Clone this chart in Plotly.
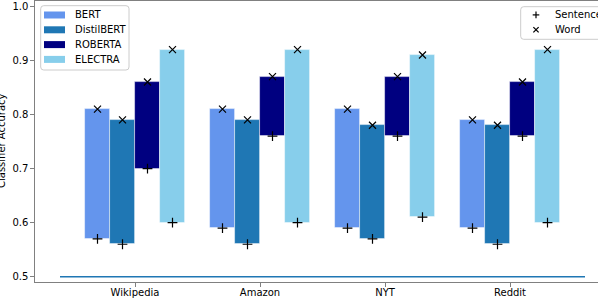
import plotly.graph_objects as go

datasets = ["Wikipedia", "Amazon", "NYT", "Reddit"]
models = ["BERT", "DistilBERT", "ROBERTA", "ELECTRA"]
colors = ["#6495ED", "#1f77b4", "#000080", "#87CEEB"]
level_names = ["Sentence", "Word"]

sentence_acc = {
    "BERT":       [0.57, 0.59, 0.59, 0.59],
    "DistilBERT": [0.56, 0.56, 0.57, 0.56],
    "ROBERTA":    [0.70, 0.76, 0.76, 0.76],
    "ELECTRA":    [0.60, 0.60, 0.61, 0.60],
}
word_acc = {
    "BERT":       [0.81, 0.81, 0.81, 0.79],
    "DistilBERT": [0.79, 0.79, 0.78, 0.78],
    "ROBERTA":    [0.86, 0.87, 0.87, 0.86],
    "ELECTRA":    [0.92, 0.92, 0.91, 0.92],
}
baseline = 0.5

W, H = 598, 299
ML, MR, MT, MB = 35, 0, 1, 17
PW, PH = W - ML - MR, H - MT - MB

offsets = [-0.3, -0.1, 0.1, 0.3]
bar_w = 0.2
font = dict(family="DejaVu Sans", size=10, color="#000000")


def px(x):
    return (x - ML) / PW


def py(y):
    return (H - MB - y) / PH


fig = go.Figure()
idx = list(range(len(datasets)))

for m, c, off in zip(models, colors, offsets):
    xs = [i + off for i in idx]
    lo = sentence_acc[m]
    hi = word_acc[m]
    fig.add_trace(go.Bar(
        x=xs, y=[h - l for h, l in zip(hi, lo)], base=lo, width=bar_w,
        marker=dict(color=c, line=dict(color="rgba(255,255,255,0.6)", width=0.8)),
        name=m, showlegend=False,
    ))

all_x, all_s, all_w = [], [], []
for m, off in zip(models, offsets):
    for i in idx:
        all_x.append(i + off)
        all_s.append(sentence_acc[m][i])
        all_w.append(word_acc[m][i])

fig.add_trace(go.Scatter(
    x=[-0.6, 3.6], y=[baseline, baseline], mode="lines",
    line=dict(color="#1f77b4", width=1.6), showlegend=False, hoverinfo="skip",
))
fig.add_trace(go.Scatter(
    x=all_x, y=all_s, mode="markers", name="Sentence", showlegend=False,
    marker=dict(symbol="cross-thin", size=7, color="black", line=dict(color="black", width=1.2)),
))
fig.add_trace(go.Scatter(
    x=all_x, y=all_w, mode="markers", name="Word", showlegend=False,
    marker=dict(symbol="x-thin", size=7, color="black", line=dict(color="black", width=1.2)),
))

shapes = []
annotations = []


def rounded_box(x0, y0, x1, y1, r=3):
    pts = (
        f"M {px(x0 + r)},{py(y0)} L {px(x1 - r)},{py(y0)} Q {px(x1)},{py(y0)} {px(x1)},{py(y0 + r)} "
        f"L {px(x1)},{py(y1 - r)} Q {px(x1)},{py(y1)} {px(x1 - r)},{py(y1)} "
        f"L {px(x0 + r)},{py(y1)} Q {px(x0)},{py(y1)} {px(x0)},{py(y1 - r)} "
        f"L {px(x0)},{py(y0 + r)} Q {px(x0)},{py(y0)} {px(x0 + r)},{py(y0)} Z"
    )
    return dict(type="path", path=pts, xref="paper", yref="paper",
                fillcolor="rgba(255,255,255,0.8)", line=dict(color="#cccccc", width=1), layer="above")


# legend 1 (models)
shapes.append(rounded_box(40.7, 5.7, 129, 70))
for k, (m, c) in enumerate(zip(models, colors)):
    yc = 15 + k * 14.8
    shapes.append(dict(type="rect", xref="paper", yref="paper",
                       x0=px(44), x1=px(65), y0=py(yc - 3.5), y1=py(yc + 3.5),
                       fillcolor=c, line=dict(width=0), layer="above"))
    annotations.append(dict(text=m, xref="paper", yref="paper", x=px(73), y=py(yc),
                            xanchor="left", yanchor="middle", showarrow=False, font=font))

# legend 2 (levels)
shapes.append(rounded_box(520.7, 6.7, 640, 39.3))
for k, name in enumerate(level_names):
    yc = 14.9 + k * 14.8
    xc = 536
    s = 3.3
    if k == 0:
        segs = [(xc - s, yc, xc + s, yc), (xc, yc - s, xc, yc + s)]
    else:
        segs = [(xc - s * 0.8, yc - s * 0.8, xc + s * 0.8, yc + s * 0.8),
                (xc - s * 0.8, yc + s * 0.8, xc + s * 0.8, yc - s * 0.8)]
    for (a, b, cc, d) in segs:
        shapes.append(dict(type="line", xref="paper", yref="paper",
                           x0=px(a), y0=py(b), x1=px(cc), y1=py(d),
                           line=dict(color="black", width=1.2), layer="above"))
    annotations.append(dict(text=name, xref="paper", yref="paper", x=px(553), y=py(yc),
                            xanchor="left", yanchor="middle", showarrow=False, font=font))

annotations.append(dict(
    text="Classifier Accuracy", xref="paper", yref="paper",
    x=px(1), y=py(141), xanchor="center", yanchor="middle",
    textangle=-90, showarrow=False, font=font,
))

fig.update_layout(
    width=W, height=H,
    margin=dict(l=ML, r=MR, t=MT, b=MB, autoexpand=False),
    plot_bgcolor="white", paper_bgcolor="white",
    font=font,
    barmode="overlay",
    bargap=0,
    showlegend=False,
    xaxis=dict(
        range=[-0.8, -0.8 + PW / 125.0], tickvals=idx, ticktext=datasets,
        showgrid=False, zeroline=False, showline=True, linecolor="#808080", linewidth=1.2,
        mirror=True, ticks="outside", ticklen=3.5, tickcolor="#808080", tickfont=font,
        automargin=False, ticklabelstandoff=-3,
    ),
    yaxis=dict(
        range=[0.4902, 1.0098], tickvals=[0.5, 0.6, 0.7, 0.8, 0.9, 1.0],
        ticktext=["0.5", "0.6", "0.7", "0.8", "0.9", "1.0"],
        showgrid=False, zeroline=False, showline=True, linecolor="#808080", linewidth=1.2,
        ticks="outside", ticklen=3.5, tickcolor="#808080", tickfont=font,
        automargin=False,
    ),
    shapes=shapes,
    annotations=annotations,
)

fig.write_html(
    "out.html",
    config={"displayModeBar": False},
    post_script="document.body.style.margin='0';document.body.style.overflow='hidden';",
)
